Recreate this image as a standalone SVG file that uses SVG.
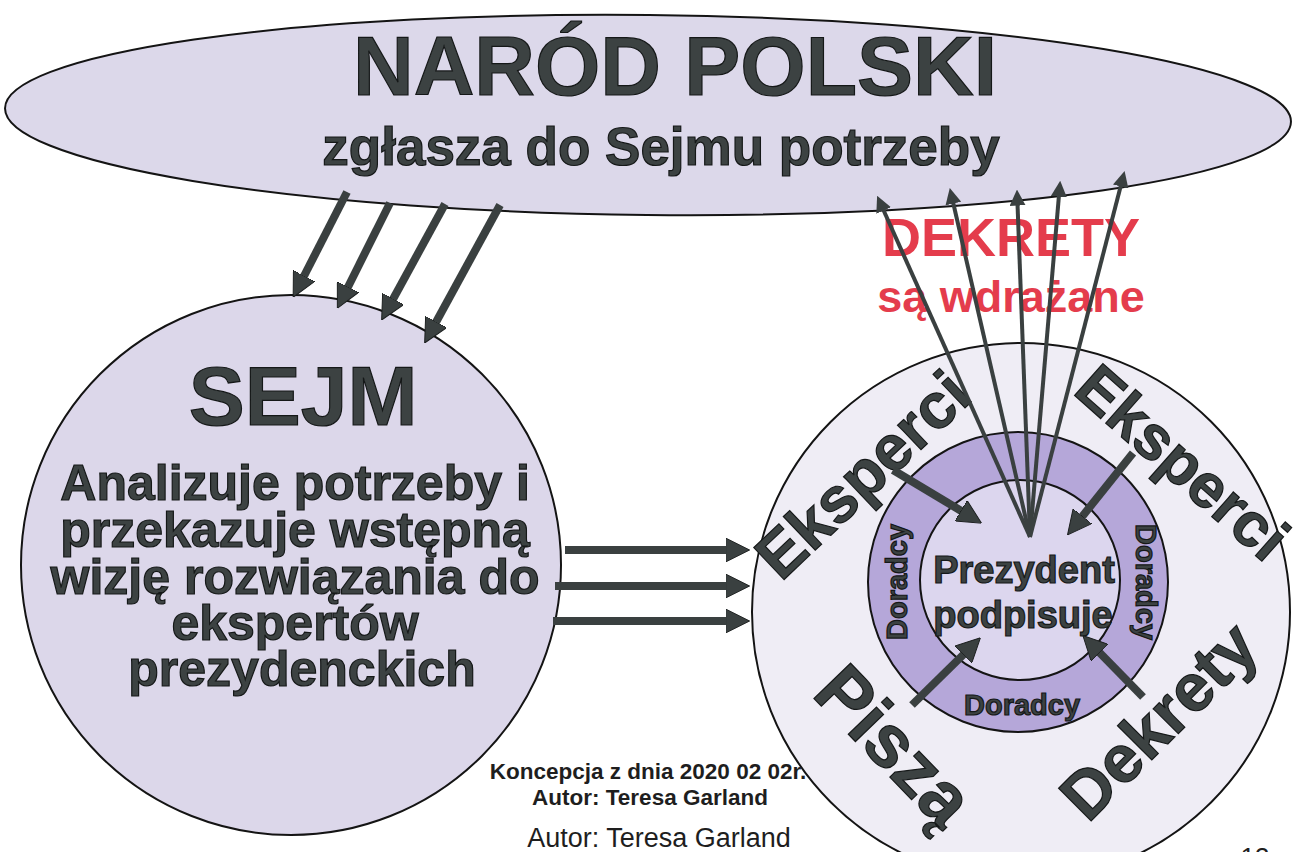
<svg xmlns="http://www.w3.org/2000/svg" width="1294" height="852" viewBox="0 0 1294 852">
<defs>
<style>
.t{font-family:"Liberation Sans",Arial,sans-serif;font-weight:bold;fill:#3c4242;stroke:#151818;stroke-width:1.2;text-anchor:middle}
.red{font-family:"Liberation Sans",Arial,sans-serif;font-weight:bold;fill:#e43c4c;text-anchor:middle}
.f{font-family:"Liberation Sans",Arial,sans-serif;fill:#1e1e1e;text-anchor:middle}
.shape{stroke:#141414;stroke-width:2}
.thick{stroke:#3a4040;stroke-width:8;fill:none}
.thin{stroke:#3a4040;stroke-width:4;fill:none}
</style>
<marker id="hd" viewBox="0 0 10 10" refX="1" refY="5" markerWidth="3" markerHeight="3" orient="auto" markerUnits="strokeWidth">
<path d="M0,0 L10,5 L0,10 z" fill="#3a4040" stroke="#1a1d1d" stroke-width="0.4"/>
</marker>
<marker id="ht" viewBox="0 0 10 10" refX="1" refY="5" markerWidth="4" markerHeight="4" orient="auto" markerUnits="strokeWidth">
<path d="M0,0 L10,5 L0,10 z" fill="#3a4040"/>
</marker>
</defs>
<rect width="1294" height="852" fill="#ffffff"/>

<g id="narod">
<ellipse class="shape" cx="648" cy="115" rx="643" ry="100" fill="#dcd8ea" transform="rotate(0.6 648 115)"/>
<text class="t" x="675" y="95" font-size="84">NARÓD POLSKI</text>
<text class="t" x="661" y="165" font-size="53">zgłasza do Sejmu potrzeby</text>
</g>

<g id="sejm">
<circle class="shape" cx="291" cy="565" r="270" fill="#dcd7ea"/>
<text class="t" x="303" y="425" font-size="84">SEJM</text>
<text class="t" font-size="50" x="302">
<tspan x="302" y="500">Analizuje potrzeby i</tspan>
<tspan x="302" y="547">przekazuje wstępną</tspan>
<tspan x="302" y="594">wizję rozwiązania do</tspan>
<tspan x="302" y="640">ekspertów</tspan>
<tspan x="302" y="686">prezydenckich</tspan>
</text>
</g>

<g id="eksperci">
<circle class="shape" cx="1021" cy="612" r="269" fill="#efedf5"/>
<text class="t" font-size="64" transform="translate(862 474) rotate(-43.5)" x="0" y="23">Eksperci</text>
<text class="t" font-size="62" transform="translate(1183 462) rotate(41.5)" x="0" y="22">Eksperci</text>
<text class="t" font-size="74" transform="translate(895 745) rotate(46)" x="0" y="26">Piszą</text>
<text class="t" font-size="67" transform="translate(1158 720) rotate(-45)" x="0" y="24">Dekrety</text>
</g>

<g id="doradcy">
<circle class="shape" cx="1018" cy="582" r="150" fill="#b5a7d9"/>
<text class="t" font-size="29" transform="translate(897 582) rotate(-90)" x="0" y="10" stroke-width="0.6">Doradcy</text>
<text class="t" font-size="29" transform="translate(1146 582) rotate(90)" x="0" y="10" stroke-width="0.6">Doradcy</text>
<text class="t" font-size="29" x="1022" y="715" stroke-width="0.6">Doradcy</text>
</g>

<g id="prezydent">
<circle class="shape" cx="1020" cy="580" r="100" fill="#dcd6ee"/>
<text class="t" font-size="38" x="1024" y="583">Prezydent</text>
<text class="t" font-size="38" x="1023" y="628">podpisuje</text>
</g>

<g id="dekrety-label">
<text class="red" font-size="54" x="1011" y="256">DEKRETY</text>
<text class="red" font-size="45" x="1011" y="312">są wdrażane</text>
</g>

<g id="connectors">
<line class="thick" x1="347" y1="192" x2="303" y2="278" marker-end="url(#hd)"/>
<line class="thick" x1="390" y1="203" x2="347" y2="289" marker-end="url(#hd)"/>
<line class="thick" x1="445" y1="204" x2="392" y2="301" marker-end="url(#hd)"/>
<line class="thick" x1="500" y1="205" x2="435" y2="324" marker-end="url(#hd)"/>

<line class="thick" x1="565" y1="550" x2="728" y2="550" marker-end="url(#hd)"/>
<line class="thick" x1="555" y1="586" x2="728" y2="586" marker-end="url(#hd)"/>
<line class="thick" x1="553" y1="621" x2="728" y2="621" marker-end="url(#hd)"/>

<line class="thick" x1="893" y1="470" x2="963" y2="512" marker-end="url(#hd)"/>
<line class="thick" x1="1133" y1="453" x2="1081" y2="518" marker-end="url(#hd)"/>
<line class="thick" x1="912" y1="705" x2="965" y2="653" marker-end="url(#hd)"/>
<line class="thick" x1="1143" y1="697" x2="1098" y2="651" marker-end="url(#hd)"/>

<line class="thin" x1="1030" y1="537" x2="883" y2="209" marker-end="url(#ht)"/>
<line class="thin" x1="1030" y1="537" x2="953" y2="202" marker-end="url(#ht)"/>
<line class="thin" x1="1030" y1="537" x2="1017.5" y2="204" marker-end="url(#ht)"/>
<line class="thin" x1="1030" y1="537" x2="1059" y2="195" marker-end="url(#ht)"/>
<line class="thin" x1="1030" y1="537" x2="1121" y2="185" marker-end="url(#ht)"/>
</g>

<g id="footer">
<text class="f" font-weight="bold" font-size="22.5" x="648" y="779">Koncepcja z dnia 2020 02 02r.</text>
<text class="f" font-weight="bold" font-size="22.5" x="650" y="805">Autor: Teresa Garland</text>
<text class="f" font-size="27" x="659" y="847">Autor: Teresa Garland</text>
<text class="f" font-size="26" x="1255" y="866" fill="#444">13</text>
</g>
</svg>
